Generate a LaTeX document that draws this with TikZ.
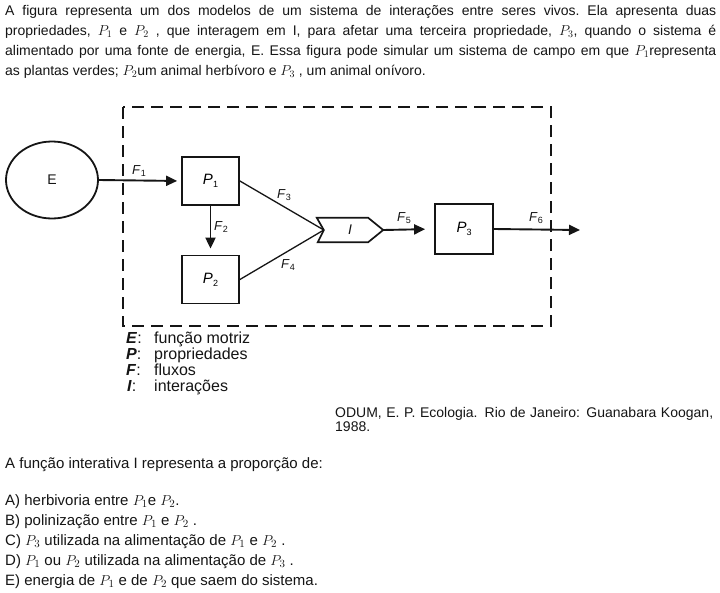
\documentclass[tikz,border=0pt]{standalone}
\usepackage{fontspec}
\setmainfont{Liberation Sans}
\usetikzlibrary{arrows.meta,calc,shapes.geometric}
\definecolor{ink}{HTML}{151515}
\newcommand\flab[2]{\textit{#1}\raisebox{-0.35ex}{\fontsize{9}{9}\selectfont #2}}
\newcommand\plab[2]{\textit{#1}\raisebox{-0.35ex}{\fontsize{9}{9}\selectfont #2}}
\tikzset{
  txt/.style={inner sep=0pt, anchor=base west, text=ink},
  body/.style={txt, font=\fontsize{15}{18}\selectfont},
  leg/.style={txt, font=\fontsize{16}{16}\selectfont},
  box/.style={draw=ink, line width=1.8pt, minimum width=57pt, minimum height=48pt, inner sep=0pt, font=\fontsize{15}{15}\selectfont},
  flow/.style={draw=ink, line width=1.9pt, -{Triangle[length=11pt,width=10pt]}},
  link/.style={draw=ink, line width=1.3pt},
  flabel/.style={inner sep=0pt, text=ink, font=\fontsize{13}{13}\selectfont},
}
\begin{document}
\begin{tikzpicture}[x=1pt,y=-1pt]
\useasboundingbox[fill=white] (0,0) rectangle (720,592);

% intro paragraph
\node[anchor=north west, inner sep=0pt, text width=711pt, align=justify, text=ink,
      font=\fontsize{14}{20}\selectfont] (intro) at (5,5)
 {\hyphenpenalty=10000\relax\frenchspacing A figura representa um dos modelos de um sistema de interações entre seres vivos. Ela apresenta duas\linebreak
  propriedades, $P_1$ e $P_2$ , que interagem em I, para afetar uma terceira propriedade, $P_3$, quando o sistema é\linebreak
  alimentado por uma fonte de energia, E. Essa figura pode simular um sistema de campo em que $P_1$representa\linebreak
  as plantas verdes; $P_2$um animal herbívoro e $P_3$ , um animal onívoro.};

% dashed system boundary
\draw[ink, line width=2.2pt, dash pattern=on 12pt off 7pt] (123,107) rectangle (551,326);

% nodes
\node[draw=ink, line width=1.8pt, ellipse, minimum width=92pt, minimum height=77pt, inner sep=0pt,
      font=\fontsize{14}{14}\selectfont, text=ink] (E) at (52,180) {E};
\node[box] (P1) at (210.5,181) {\plab{P}{1}};
\node[box] (P2) at (210.5,279.5) {\plab{P}{2}};
\node[box, minimum width=58pt, minimum height=50pt] (P3) at (464,229) {\plab{P}{3}};
\node[minimum width=66pt, minimum height=24pt, inner sep=0pt, text=ink,
      font=\fontsize{14}{14}\selectfont] (I) at (350,230) {\textit{I}};
\draw[ink, line width=1.7pt, line join=miter]
  (I.north west) -- ($(I.north east)+(-15,0)$) -- (I.east) -- ($(I.south east)+(-15,0)$)
  -- ($(I.south west)+(1,0)$) -- ($(I.west)+(7,0)$) -- cycle;
\coordinate (notch) at ($(I.west)+(7,0)$);
\coordinate (out) at (580,230);

% connectors
\draw[flow, shorten >=4pt] (E.east) -- (P1.west);
\draw[flow, shorten >=6pt] (P1.south) -- (P2.north);
\draw[link] (P1.east) -- (notch);
\draw[link] (P2.east) -- (notch);
\draw[flow, shorten >=9pt] (I.east) -- (P3.west);
\draw[flow] (P3.east) -- (out);

% flow labels
\node[flabel] at (139,171) {\flab{F}{1}};
\node[flabel] at (221,227) {\flab{F}{2}};
\node[flabel] at (284,195) {\flab{F}{3}};
\node[flabel] at (288,265) {\flab{F}{4}};
\node[flabel] at (404,218) {\flab{F}{5}};
\node[flabel] at (536,218) {\flab{F}{6}};

% legend
\node[leg] (lE) at (126,343) {\textbf{\textit{E}}:};
\node[leg] (lEt) at (154,343) {função motriz};
\node[leg] (lP) at (126,359) {\textbf{\textit{P}}:};
\node[leg] (lPt) at (154,359) {propriedades};
\node[leg] (lF) at (126,375) {\textbf{\textit{F}}:};
\node[leg] (lFt) at (154,375) {fluxos};
\node[leg] (lI) at (127,391) {\textbf{\textit{I}}:};
\node[leg] (lIt) at (154,391) {interações};

% citation
\node[anchor=north west, inner sep=0pt, text width=378pt, align=justify, text=ink,
      font=\fontsize{14}{14}\selectfont] (cite) at (335,407)
 {ODUM, E. P. Ecologia. Rio de Janeiro: Guanabara Koogan,\linebreak 1988.};

% question
\node[body] (q) at (5,468) {A função interativa I representa a proporção de:};
\node[body] (qa) at (5,505) {A) herbivoria entre $P_1$e $P_2$.};
\node[body] (qb) at (5,525) {B) polinização entre $P_1$ e $P_2$ .};
\node[body] (qc) at (5,545) {C) $P_3$ utilizada na alimentação de $P_1$ e $P_2$ .};
\node[body] (qd) at (5,565) {D) $P_1$ ou $P_2$ utilizada na alimentação de $P_3$ .};
\node[body] (qe) at (5,585) {E) energia de $P_1$ e de $P_2$ que saem do sistema.};
\end{tikzpicture}
\end{document}
